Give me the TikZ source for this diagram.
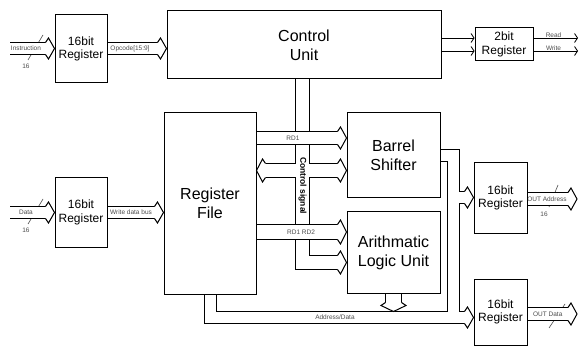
\documentclass[tikz,border=0pt]{standalone}
\usepackage{fontspec}
\setmainfont{Liberation Sans}
\usetikzlibrary{arrows.meta,calc}
\pgfdeclarelayer{background}
\pgfsetlayers{background,main}

\begin{document}
\begin{tikzpicture}[
    x=1pt, y=-1pt,
    box/.style={draw, line width=1pt, align=center, inner sep=0pt},
    reg/.style={box, font=\fontsize{12}{13.5}\selectfont, minimum width=52pt},
    unit/.style={box, font=\fontsize{16}{19}\selectfont},
    bus/.style={line width=#1pt, white, preaction={draw=black, line width=#1pt+2pt}},
    busout/.style={line width=#1pt+2pt, black},
    busin/.style={line width=#1pt, white},
    sig/.style={line width=0.8pt, -{Straight Barb[length=3pt,width=9pt]}},
    lbl/.style={font=\fontsize{6.5}{7}\selectfont, text=black!70, inner sep=0.5pt},
    slash/.style={line width=0.6pt, black!70},
    pics/bushead/.style={code={
      \draw[line width=1pt, fill=white]
        (-9,#1/2+0.5) -- (-6,#1/2+5) -- (0,0) -- (-6,-#1/2-5) -- (-9,-#1/2-0.5);
    }}
  ]
  \useasboundingbox (0,0) rectangle (580,347);

  % blocks
  \node[reg, minimum height=68pt] (ir) at (81,49) {16bit\\Register};
  \node[reg, minimum height=69pt] (wr) at (81,212.5) {16bit\\Register};
  \node[unit, minimum width=274pt, minimum height=68pt] (cu) at (304,45) {Control\\Unit};
  \node[reg, minimum width=58pt, minimum height=33pt] (fr) at (504,44.5) {2bit\\Register};
  \node[unit, minimum width=92pt, minimum height=181pt] (rf) at (210,203.5) {Register\\File};
  \node[unit, minimum width=93pt, minimum height=85pt] (bs) at (393.5,155.5) {Barrel\\Shifter};
  \node[unit, minimum width=93pt, minimum height=81pt] (alu) at (393.5,252.5) {Arithmatic\\Logic Unit};
  \node[reg, minimum width=53pt, minimum height=70pt] (ar) at (500.5,198) {16bit\\Register};
  \node[reg, minimum width=53pt, minimum height=66pt] (dr) at (500.5,312) {16bit\\Register};

  % loose ends of the outside connections
  \coordinate (insrc) at (10,48.5);
  \coordinate (datsrc) at (10,212.5);
  \coordinate (rdout) at (578,38);
  \coordinate (wrout) at (578,51);
  \coordinate (adout) at (577,199);
  \coordinate (dtout) at (577,314);
  % where the buses leave their blocks and turn
  \coordinate (ctop) at ($(cu.south)+(-1.5,0)$);
  \coordinate (adtop) at ($(rf.south)+(0.5,0)$);
  \coordinate (bsturn) at (453.5,155.5);
  \coordinate (bsfork) at (453.5,197.5);
  \coordinate (bsjoin) at (453.5,317.5);

  \begin{pgfonlayer}{background}
    % bit-width slashes, partly hidden by the buses
    \draw[slash] (28,60) -- (43,35);
    \draw[slash] (28,224) -- (43,199);
    \draw[slash] (549,207) -- (558,185);
    \draw[slash] (549,328) -- (565,304);

    % input side
    \draw[bus=11] (insrc) -- node[lbl, pos=0.45] (lins) {Instruction} ($(ir.west |- insrc)+(-9,0)$);
    \pic at (ir.west |- insrc) {bushead=11};
    \draw[bus=11] (ir.east |- insrc) -- node[lbl, pos=0.45] (lopc) {Opcode[15:9]} ($(cu.west |- insrc)+(-9,0)$);
    \pic at (cu.west |- insrc) {bushead=11};
    \draw[bus=11] (datsrc) -- node[lbl, pos=0.45] (ldat) {Data} ($(wr.west |- datsrc)+(-9,0)$);
    \pic at (wr.west |- datsrc) {bushead=11};
    \draw[bus=11] (wr.east |- datsrc) -- node[lbl, pos=0.5] (lwdb) {Write data bus} ($(rf.west |- datsrc)+(-9,0)$);
    \pic at (rf.west |- datsrc) {bushead=11};

    % control signals: outlines first, then insides, so the branches join
    \draw[busout=13] (ctop) -- (ctop |- 0,262.5) -- ($(alu.west |- 0,262.5)+(-9,0)$);
    \draw[busout=13] ($(rf.east |- 0,170.5)+(9,0)$) -- ($(bs.west |- 0,170.5)+(-9,0)$);
    \draw[busin=13] (ctop) -- (ctop |- 0,262.5) -- ($(alu.west |- 0,262.5)+(-9,0)$);
    \draw[busin=13] ($(rf.east |- 0,170.5)+(9,0)$) -- ($(bs.west |- 0,170.5)+(-9,0)$);
    \pic at (alu.west |- 0,262.5) {bushead=13};
    \pic at (bs.west |- 0,170.5) {bushead=13};
    \pic[rotate=180] at (rf.east |- 0,170.5) {bushead=13};

    % read ports cross over the control bus
    \draw[bus=12] (rf.east |- 0,138) -- node[lbl, pos=0.45] (lrd1) {RD1} ($(bs.west |- 0,138)+(-9,0)$);
    \pic at (bs.west |- 0,138) {bushead=12};
    \draw[bus=14] (rf.east |- 0,232) -- node[lbl, pos=0.55] (lrd2) {RD1 RD2} ($(alu.west |- 0,232)+(-9,0)$);
    \pic at (alu.west |- 0,232) {bushead=14};

    % shifter output and address/data bus
    \draw[busout=11] (bs.east |- bsturn) -- (bsturn) -- (bsjoin);
    \draw[busout=11] (bsfork) -- ($(ar.west |- bsfork)+(-9,0)$);
    \draw[busout=11] (adtop) -- (adtop |- bsjoin) -- ($(dr.west |- bsjoin)+(-9,0)$);
    \draw[busin=11] (bs.east |- bsturn) -- (bsturn) -- (bsjoin);
    \draw[busin=11] (bsfork) -- ($(ar.west |- bsfork)+(-9,0)$);
    \draw[busin=11] (adtop) -- (adtop |- bsjoin) -- node[lbl, pos=0.49] (lad) {Address/Data} ($(dr.west |- bsjoin)+(-9,0)$);
    \pic at (ar.west |- bsfork) {bushead=11};
    \pic at (dr.west |- bsjoin) {bushead=11};

    % alu result drops onto the bus
    \draw[bus=15] (alu.south) -- ($(alu.south |- 0,311.5)+(0,-9)$);
    \pic[rotate=-90] at (alu.south |- 0,311.5) {bushead=15};

    % outputs
    \draw[bus=12] (ar.east |- adout) -- node[lbl, pos=0.48] (lao) {OUT Address} ($(adout)+(-9,0)$);
    \pic at (adout) {bushead=12};
    \draw[bus=12] (dr.east |- dtout) -- node[lbl, pos=0.5] (ldo) {OUT Data} ($(dtout)+(-9,0)$);
    \pic at (dtout) {bushead=12};
  \end{pgfonlayer}

  \node[font=\bfseries\fontsize{8.5}{9}\selectfont, rotate=-90, inner sep=0pt] (lctl)
    at ($(ctop)!0.58!(ctop |- 0,262.5)$) {Control signal};

  \node[lbl] (w1) at (26,66) {16};
  \node[lbl] (w2) at (26,230) {16};
  \node[lbl] (w3) at (544,214) {16};

  % 2bit register lines
  \draw[sig] (cu.east |- 0,38) -- (fr.west |- 0,38);
  \draw[sig] (cu.east |- 0,51) -- (fr.west |- 0,51);
  \draw[sig] (fr.east |- rdout) -- node[lbl, above, pos=0.45] (lrd) {Read} (rdout);
  \draw[sig] (fr.east |- wrout) -- node[lbl, above, pos=0.45] (lwr) {Write} (wrout);
\end{tikzpicture}
\end{document}
